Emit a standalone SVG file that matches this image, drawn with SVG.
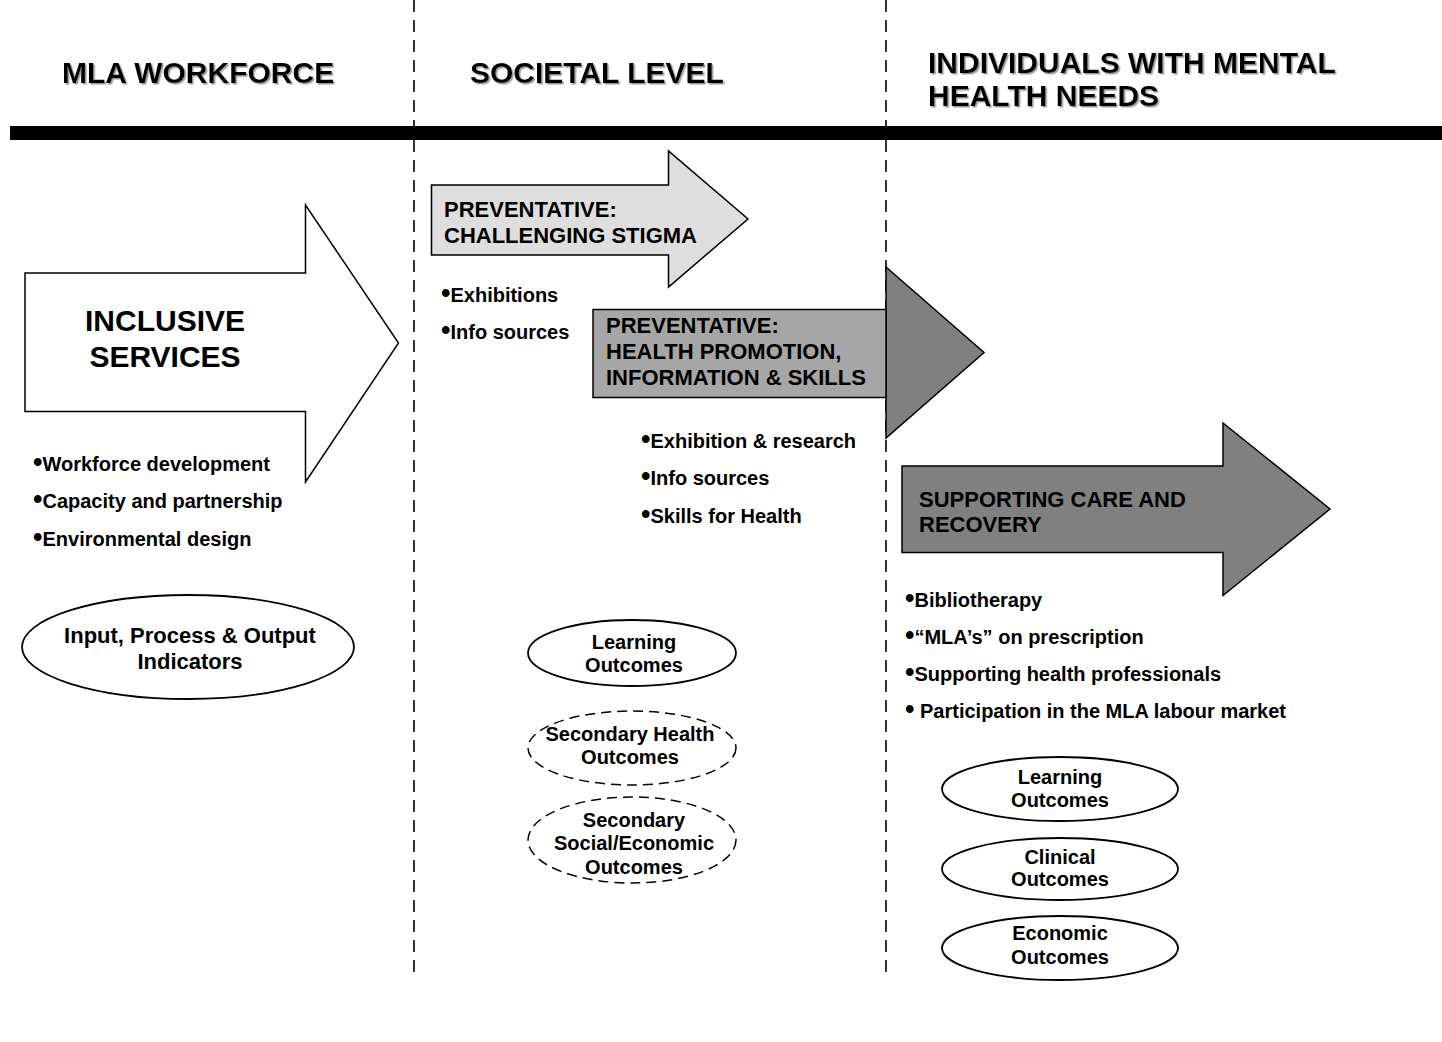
<svg xmlns="http://www.w3.org/2000/svg" width="1442" height="1042" viewBox="0 0 1442 1042">
<defs>
<filter id="shadow" x="-5%" y="-20%" width="110%" height="150%">
<feDropShadow dx="1.5" dy="1.5" stdDeviation="0.7" flood-color="#9a9a9a" flood-opacity="1"/>
</filter>
<style>
text{font-family:"Liberation Sans",Arial,sans-serif;font-weight:bold;fill:#000}
.hd{font-size:30px;filter:url(#shadow)}
.big{font-size:30px}
.ar{font-size:22px}
.bl{font-size:20px}
.dot{font-size:27px}
.el{font-size:20px;text-anchor:middle}
.el22{font-size:22px;text-anchor:middle}
.div{stroke:#000;stroke-width:1.6;stroke-dasharray:12 8;fill:none}
.shape{stroke:#000;stroke-width:1.5}
.oval{fill:#fff;stroke:#000;stroke-width:1.8}
.dash{fill:#fff;stroke:#000;stroke-width:1.5;stroke-dasharray:10 6}
</style>
</defs>
<rect width="1442" height="1042" fill="#fff"/>

<g id="connectors">
<line class="div" x1="414" y1="0" x2="414" y2="975"/>
<line class="div" x1="886" y1="0" x2="886" y2="978"/>
<rect x="10" y="126" width="1432" height="14" fill="#000"/>
</g>

<g id="header-workforce"><text class="hd" x="62" y="83">MLA WORKFORCE</text></g>
<g id="header-societal"><text class="hd" x="470" y="83">SOCIETAL LEVEL</text></g>
<g id="header-individuals"><text class="hd" x="928" y="72.5">INDIVIDUALS WITH MENTAL</text><text class="hd" x="928" y="106">HEALTH NEEDS</text></g>

<g id="node-inclusive">
<path class="shape" fill="#fff" d="M25,273 H305.5 V205 L398.5,343 L305.5,482 V411.5 H25 Z"/>
<text class="big" x="165" y="331" text-anchor="middle">INCLUSIVE</text>
<text class="big" x="165" y="367" text-anchor="middle">SERVICES</text>
</g>
<g id="list-workforce">
<text class="bl" x="33" y="470.5"><tspan class="dot">•</tspan>Workforce development</text>
<text class="bl" x="33" y="508"><tspan class="dot">•</tspan>Capacity and partnership</text>
<text class="bl" x="33" y="545.5"><tspan class="dot">•</tspan>Environmental design</text>
</g>
<g id="node-indicators">
<ellipse class="oval" cx="188" cy="647" rx="166" ry="52"/>
<text class="el22" x="190" y="643">Input, Process &amp; Output</text>
<text class="el22" x="190" y="669">Indicators</text>
</g>

<g id="node-stigma">
<path class="shape" fill="#dedede" d="M431.5,185 H668.5 V151 L748,219 L668.5,287 V255 H431.5 Z"/>
<text class="ar" x="444" y="217">PREVENTATIVE:</text>
<text class="ar" x="444" y="243">CHALLENGING STIGMA</text>
</g>
<g id="list-stigma">
<text class="bl" x="441" y="302"><tspan class="dot">•</tspan>Exhibitions</text>
<text class="bl" x="441" y="339"><tspan class="dot">•</tspan>Info sources</text>
</g>

<g id="node-promotion">
<path class="shape" fill="#808080" d="M886,267 L984,352.5 L886,438 Z"/>
<rect class="shape" fill="#a6a6a6" x="593" y="309.5" width="293" height="88"/>
<text class="ar" x="606" y="333">PREVENTATIVE:</text>
<text class="ar" x="606" y="359">HEALTH PROMOTION,</text>
<text class="ar" x="606" y="385">INFORMATION &amp; SKILLS</text>
</g>
<g id="list-promotion">
<text class="bl" x="641" y="448"><tspan class="dot">•</tspan>Exhibition &amp; research</text>
<text class="bl" x="641" y="485"><tspan class="dot">•</tspan>Info sources</text>
<text class="bl" x="641" y="523"><tspan class="dot">•</tspan>Skills for Health</text>
</g>
<g id="node-learning-mid">
<ellipse class="oval" cx="632" cy="653" rx="104" ry="33"/>
<text class="el" x="634" y="649">Learning</text>
<text class="el" x="634" y="672">Outcomes</text>
</g>
<g id="node-sec-health">
<ellipse class="dash" cx="632" cy="748" rx="104" ry="37"/>
<text class="el" x="630" y="741">Secondary Health</text>
<text class="el" x="630" y="764">Outcomes</text>
</g>
<g id="node-sec-social">
<ellipse class="dash" cx="632" cy="840" rx="104" ry="43"/>
<text class="el" x="634" y="827">Secondary</text>
<text class="el" x="634" y="850">Social/Economic</text>
<text class="el" x="634" y="874">Outcomes</text>
</g>

<g id="node-care">
<path class="shape" fill="#808080" d="M902,466 H1223 V423 L1330,509 L1223,595.5 V552.5 H902 Z"/>
<text class="ar" x="919" y="507">SUPPORTING CARE AND</text>
<text class="ar" x="919" y="532">RECOVERY</text>
</g>
<g id="list-care">
<text class="bl" x="905" y="607"><tspan class="dot">•</tspan>Bibliotherapy</text>
<text class="bl" x="905" y="643.5"><tspan class="dot">•</tspan>“MLA’s” on prescription</text>
<text class="bl" x="905" y="681"><tspan class="dot">•</tspan>Supporting health professionals</text>
<text class="bl" x="905" y="718"><tspan class="dot">•</tspan> Participation in the MLA labour market</text>
</g>
<g id="node-learning-right">
<ellipse class="oval" cx="1060" cy="789" rx="118" ry="32"/>
<text class="el" x="1060" y="784">Learning</text>
<text class="el" x="1060" y="807">Outcomes</text>
</g>
<g id="node-clinical">
<ellipse class="oval" cx="1060" cy="869" rx="118" ry="31"/>
<text class="el" x="1060" y="864">Clinical</text>
<text class="el" x="1060" y="886">Outcomes</text>
</g>
<g id="node-economic">
<ellipse class="oval" cx="1060" cy="948" rx="118" ry="32"/>
<text class="el" x="1060" y="940">Economic</text>
<text class="el" x="1060" y="964">Outcomes</text>
</g>
</svg>
